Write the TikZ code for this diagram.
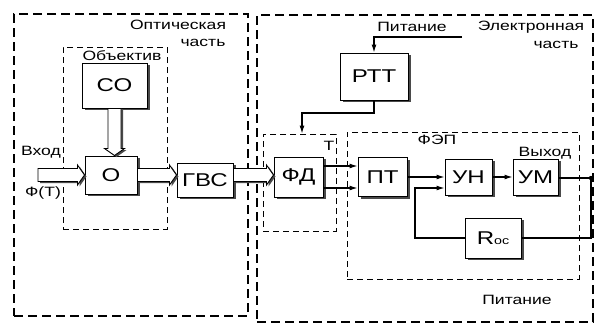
\documentclass[tikz,border=0pt]{standalone}
\usepackage{fontspec}
\setmainfont{Liberation Sans}[FakeStretch=1.3]
\usetikzlibrary{positioning,arrows.meta,calc}
\definecolor{shade}{HTML}{4A4A4A}

% hollow optical arrow from #1 to #2
\newcommand{\optarrow}[2]{%
  \filldraw[optarr] ($(#1)!6.5pt!90:(#2)$) -- ($(#2)!7pt!(#1)!6.5pt!-90:(#1)$)
    -- ($(#2)!7pt!(#1)!10pt!-90:(#1)$) -- (#2) -- ($(#2)!7pt!(#1)!10pt!90:(#1)$)
    -- ($(#2)!7pt!(#1)!6.5pt!90:(#1)$) -- ($(#1)!6.5pt!-90:(#2)$) -- cycle;}

\begin{document}
\begin{tikzpicture}[x=1pt, y=-1pt, >={Latex[length=8pt,width=5pt]},
    font=\fontsize{13.5}{15}\selectfont,
    blk/.style={draw, line width=1pt, fill=white, inner sep=0pt, font=\fontsize{18.5}{20}\selectfont,
      preaction={fill=shade, transform canvas={shift={(3pt,-2pt)}}}},
    partbox/.style={draw, line width=1.4pt, dash pattern=on 9pt off 5pt, inner sep=0pt},
    grpbox/.style={draw, line width=0.9pt, dash pattern=on 6pt off 4pt, inner sep=0pt},
    wire/.style={line width=1.1pt},
    sig/.style={wire, ->},
    optarr/.style={line width=0.9pt, fill=white,
      preaction={fill=shade, transform canvas={shift={(2pt,-1.5pt)}}}}]
  \useasboundingbox[fill=white] (0,0) rectangle (603,325);

  % dashed parts
  \node[partbox, minimum width=234pt, minimum height=302pt] (optic) at (131,165) {};
  \node[partbox, minimum width=336pt, minimum height=307pt] (elec) at (425,168.5) {};
  \node[grpbox, minimum width=104pt, minimum height=182pt] (objbox) at (115,138) {};
  \node[grpbox, minimum width=73pt, minimum height=97pt] (tbox) at (299.5,182.5) {};
  \node[grpbox, minimum width=232pt, minimum height=147pt] (fepbox) at (463,205.5) {};

  % labels
  \node (optlbl) at (178,25) {Оптическая};
  \node (optlbl2) at (203,43) {часть};
  \node (objlbl) at (122,56) {Объектив};
  \node (inlbl) at (41,152) {Вход};
  \node (phlbl) at (43,193) {Ф(Т)};
  \node (ellbl) at (531,27) {Электронная};
  \node (ellbl2) at (556,45) {часть};
  \node (pwlbl) at (412,27) {Питание};
  \node (tlbl) at (329,146) {Т};
  \node (feplbl) at (437,140) {ФЭП};
  \node (outlbl) at (545,153) {Выход};
  \node (pwlbl2) at (517,300) {Питание};

  % blocks
  \node[blk, minimum width=65pt, minimum height=45pt] (co) at (114.5,85.5) {СО};
  \node[blk, minimum width=52pt, minimum height=38pt] (o) at (111,175) {О};
  \node[blk, minimum width=56pt, minimum height=34pt] (gvs) at (205,180) {ГВС};
  \node[blk, minimum width=49pt, minimum height=40pt] (fd) at (298.5,177) {ФД};
  \node[blk, minimum width=68pt, minimum height=47pt] (rtt) at (374,76.5) {РТТ};
  \node[blk, minimum width=49pt, minimum height=39pt] (pt) at (382.5,177) {ПТ};
  \node[blk, minimum width=47pt, minimum height=36pt] (un) at (468.5,177) {УН};
  \node[blk, minimum width=45pt, minimum height=36pt] (um) at (535.5,177) {УМ};
  \node[blk, minimum width=56pt, minimum height=40pt] (roc) at (493,238) {R{\fontsize{11}{11}\selectfont ос}};

  % electric links
  \coordinate (pw) at (462,37);
  \coordinate (tk) at (302,113);
  \coordinate (fbk) at (415,188);
  \coordinate (outp) at (591,178);
  \coordinate (fd1) at ([yshift=11pt]fd.east);
  \coordinate (fd2) at ([yshift=-11pt]fd.east);
  \draw[sig] (pw) -| (rtt.north);
  \draw[sig] (rtt.south) |- (tk) -- (tk |- tbox.north);
  \draw[sig] (fd1) -- (fd1 -| pt.west);
  \draw[sig] (fd2) -- (fd2 -| pt.west);
  \draw[sig] (pt.east) -- (un.west);
  \draw[sig] (un.east) -- (um.west);
  \draw[wire] (um.east |- outp) -- (outp);
  \fill (outp) circle (2.2pt);
  \draw[wire] (outp) |- (roc.east);
  \draw[sig] (roc.west) -| (fbk) -- (fbk -| un.west);

  % optical links
  \coordinate (inp) at (38,175);
  \coordinate (co1) at (co.south);
  \coordinate (co2) at (co.south |- o.north);
  \coordinate (g1) at (o.east -| gvs.west);
  \coordinate (g2) at (gvs.east |- o.east);
  \coordinate (g3) at (fd.west |- o.east);
  \optarrow{inp}{o.west}
  \optarrow{co1}{co2}
  \optarrow{o.east}{g1}
  \optarrow{g2}{g3}
\end{tikzpicture}
\end{document}
